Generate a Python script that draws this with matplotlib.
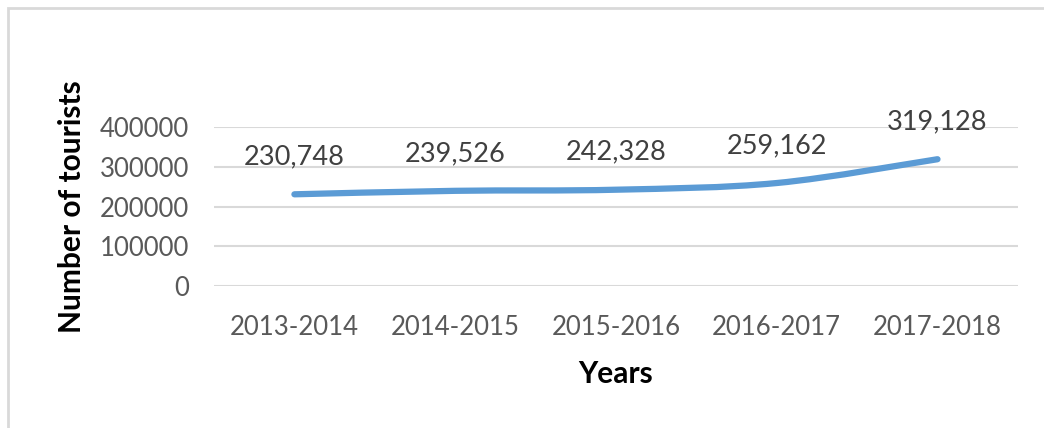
#!/usr/bin/env python3

import numpy as np
import matplotlib
matplotlib.use('Agg')
import matplotlib.pyplot as plt
from matplotlib.path import Path
from matplotlib.patches import PathPatch, Rectangle

years = ['2013-2014', '2014-2015', '2015-2016', '2016-2017', '2017-2018']
tourists = [230748, 239526, 242328, 259162, 319128]
yticks = [0, 100000, 200000, 300000, 400000]

plt.rcParams['font.family'] = ['Lato', 'DejaVu Sans']
grey = '#595959'
blue = '#5B9BD5'

fig = plt.figure(figsize=(10.44, 4.28), dpi=100)
ax = fig.add_axes([0.205, 0.332, 0.77, 0.371])

# smooth line like excel (bezier through the points)
x = np.arange(len(years), dtype=float)
y = np.array(tourists, dtype=float)
t = 1/6
verts = [(x[0], y[0])]
codes = [Path.MOVETO]
for i in range(len(x)-1):
	x0, y0 = (x[i-1], y[i-1]) if i > 0 else (x[i], y[i])
	x3, y3 = (x[i+2], y[i+2]) if i+2 < len(x) else (x[i+1], y[i+1])
	c1 = (x[i] + (x[i+1]-x0)*t, y[i] + (y[i+1]-y0)*t)
	c2 = (x[i+1] - (x3-x[i])*t, y[i+1] - (y3-y[i])*t)
	verts += [c1, c2, (x[i+1], y[i+1])]
	codes += [Path.CURVE4]*3
ax.add_patch(PathPatch(Path(verts, codes), fill=False, edgecolor=blue,
	linewidth=4.5, capstyle='round', joinstyle='round', zorder=3))

for xi, yi in zip(x, tourists):
	ax.annotate(f'{yi:,}', (xi, yi), xytext=(0, 18), textcoords='offset points',
		ha='center', va='bottom', fontsize=19.5, color='#404040')

ax.set_xlim(-0.5, len(years)-0.5)
ax.set_ylim(0, 400000)
ax.set_yticks(yticks)
ax.set_yticklabels([str(v) for v in yticks], fontsize=18.5, color=grey)
ax.set_xticks(x)
ax.set_xticklabels(years, fontsize=18.5, color=grey)
ax.tick_params(length=0, pad=18)
ax.tick_params(axis='x', pad=21)
ax.grid(axis='y', color='#D9D9D9', linewidth=1.5)
ax.set_axisbelow(True)
for s in ax.spines.values():
	s.set_visible(False)

ax.set_ylabel('Number of tourists', fontsize=21.5, fontweight='bold', color='black', labelpad=10)
ax.set_xlabel('Years', fontsize=21.5, fontweight='bold', color='black', labelpad=14)

# chart border (left and top visible)
fig.patches.append(Rectangle((8/1044, -0.1), 1.2, (420/428)+0.1, transform=fig.transFigure,
	fill=False, edgecolor='#D9D9D9', linewidth=2))

fig.savefig('out.png', dpi=100)
